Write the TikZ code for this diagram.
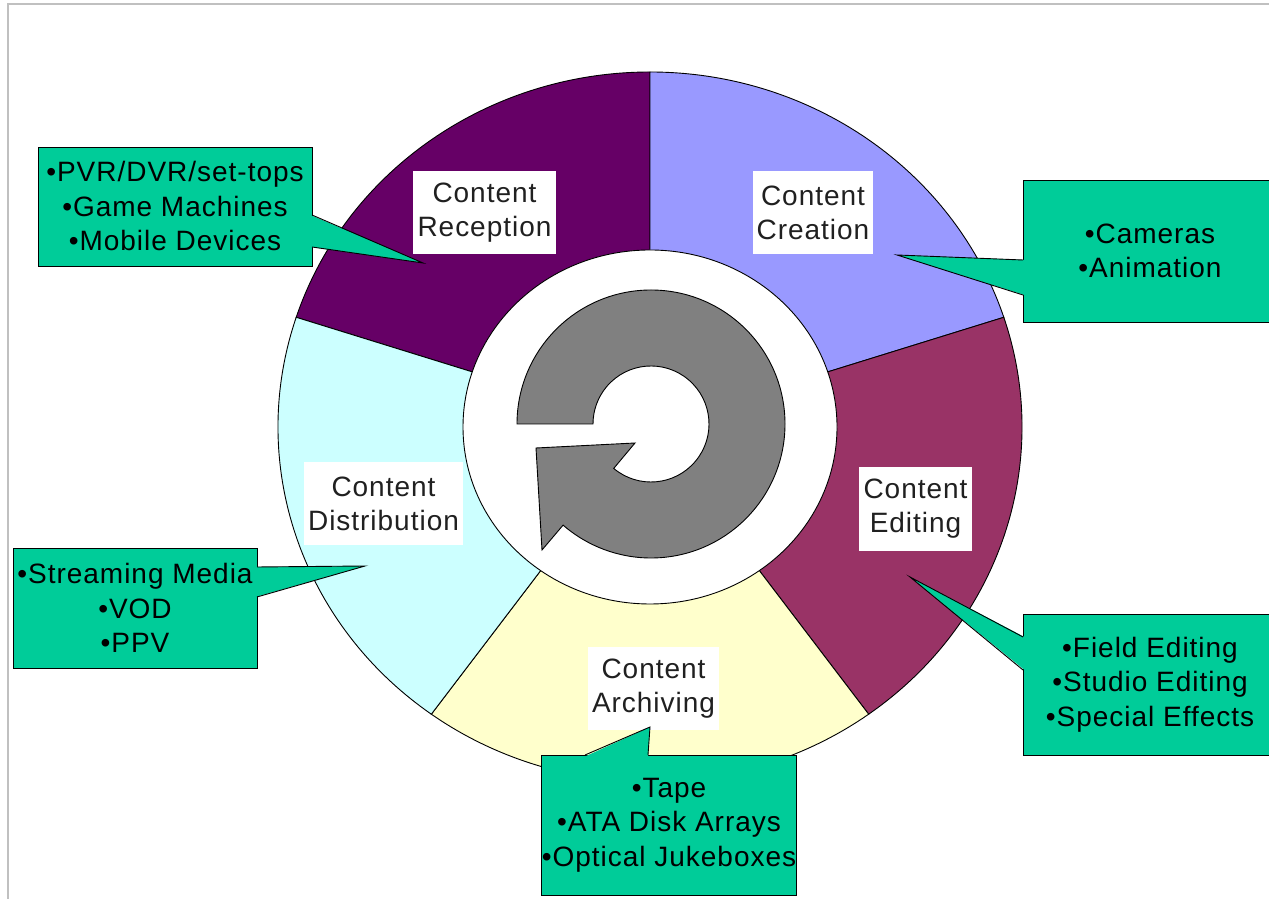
\documentclass[tikz,border=0pt]{standalone}
\usepackage{fontspec}
\setmainfont[LetterSpace=3.5]{Liberation Sans}
\definecolor{recep}{HTML}{660066}
\definecolor{creat}{HTML}{9999FF}
\definecolor{edit}{HTML}{993366}
\definecolor{archi}{HTML}{FFFFCC}
\definecolor{distr}{HTML}{CCFFFF}
\definecolor{callgreen}{HTML}{00CC99}
\definecolor{arrowgray}{HTML}{808080}
\definecolor{framegray}{HTML}{C0C0C0}
\definecolor{labeltext}{HTML}{202020}
\begin{document}
\begin{tikzpicture}[x=1pt,y=1pt,
  seg/.style={draw=black, line width=0.9pt},
  lbl/.style={fill=white, inner sep=0pt, align=center, text=labeltext,
    font=\fontsize{28}{34}\selectfont},
  callout/.style={fill=callgreen, draw=black, line width=0.9pt, inner sep=0pt,
    align=center, font=\fontsize{28}{34.5}\selectfont},
  ptrfill/.style={fill=callgreen},
  ptredge/.style={draw=black, line width=0.9pt, line join=miter}]
\useasboundingbox (0,0) rectangle (1269,899);
\clip (0,0) rectangle (1269,899);
% frame
\draw[framegray, line width=1.5pt] (8,-2) -- (8,895) -- (1275,895);
% wheel
\coordinate (W) at (650,472);
\filldraw[seg, fill=recep] (W) -- ([shift={(W)}]90:372 and 355) arc[start angle=90, end angle=162, x radius=372, y radius=355] -- cycle;
\filldraw[seg, fill=creat] (W) -- ([shift={(W)}]18:372 and 355) arc[start angle=18, end angle=90, x radius=372, y radius=355] -- cycle;
\filldraw[seg, fill=edit] (W) -- ([shift={(W)}]-54:372 and 355) arc[start angle=-54, end angle=18, x radius=372, y radius=355] -- cycle;
\filldraw[seg, fill=archi] (W) -- ([shift={(W)}]-126:372 and 355) arc[start angle=-126, end angle=-54, x radius=372, y radius=355] -- cycle;
\filldraw[seg, fill=distr] (W) -- ([shift={(W)}]162:372 and 355) arc[start angle=162, end angle=234, x radius=372, y radius=355] -- cycle;
\filldraw[seg, fill=white] (W) ellipse[x radius=187, y radius=177];
% circular arrow
\coordinate (G) at (651,475);
\filldraw[seg, fill=arrowgray]
  ([shift={(G)}]180:134) arc[start angle=180, end angle=-131, radius=134]
  -- (542,349) -- (536,451) -- (635,456)
  -- ([shift={(G)}]-130:58) arc[start angle=-130, end angle=180, radius=58]
  -- cycle;
% segment labels
\node[lbl, minimum width=143, minimum height=83] (lrecep) at (484.5,686.5) {Content\\Reception};
\node[lbl, minimum width=120, minimum height=83] (lcreat) at (813,686.5) {Content\\Creation};
\node[lbl, minimum width=113, minimum height=84] (ledit) at (915.5,390) {Content\\Editing};
\node[lbl, minimum width=159, minimum height=83] (ldistr) at (383.5,395.5) {Content\\Distribution};
\node[lbl, minimum width=131, minimum height=83] (larchi) at (653.5,210.5) {Content\\Archiving};
% callouts
\node[callout, minimum width=274, minimum height=119] (crecep) at (175,692.5) {•PVR/DVR/set-tops\\•Game Machines\\•Mobile Devices};
\coordinate (trecep) at (423,636);
\fill[ptrfill] (trecep) -- (310.5,684) -- (310.5,652) -- cycle;
\draw[ptredge] (312,684) -- (trecep) -- (312,652);

\node[callout, minimum width=254, minimum height=142] (ccreat) at (1150,648) {•Cameras\\•Animation};
\coordinate (tcreat) at (897,644);
\fill[ptrfill] (tcreat) -- (1024.5,639) -- (1024.5,604) -- cycle;
\draw[ptredge] (1023,639) -- (tcreat) -- (1023,604);

\node[callout, minimum width=254, minimum height=141] (cedit) at (1150,214.5) {•Field Editing\\•Studio Editing\\•Special Effects};
\coordinate (tedit) at (910,322);
\fill[ptrfill] (tedit) -- (1024.5,262) -- (1024.5,229) -- cycle;
\draw[ptredge] (1023,262) -- (tedit) -- (1023,229);

\node[callout, minimum width=244, minimum height=120] (cdistr) at (135,291) {•Streaming Media\\•VOD\\•PPV};
\coordinate (tdistr) at (365,333);
\fill[ptrfill] (tdistr) -- (255.5,332) -- (255.5,302) -- cycle;
\draw[ptredge] (257,332) -- (tdistr) -- (257,302);

\node[callout, minimum width=252, minimum height=140] (carchi) at (669,74) {•Tape\\•ATA Disk Arrays\\•Optical Jukeboxes};
\coordinate (tarchi) at (650,172);
\fill[ptrfill] (tarchi) -- (585,142.5) -- (648,142.5) -- cycle;
\draw[ptredge] (585,144) -- (tarchi) -- (648,144);
\end{tikzpicture}
\end{document}
